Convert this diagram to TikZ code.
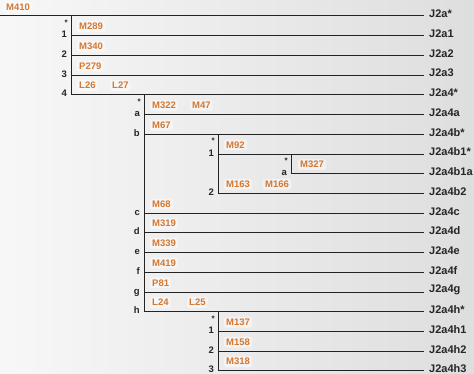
\documentclass[tikz,border=0pt]{standalone}
\usepackage{fontspec}
\setmainfont{Liberation Sans}
\definecolor{mk}{RGB}{212,120,50}
\definecolor{ln}{RGB}{35,35,35}
\tikzset{
  branch/.style={draw=ln, line width=1pt, line cap=rect},
  leaf/.style={anchor=west, inner xsep=6pt, inner ysep=0pt, text=black!85,
    font=\bfseries\fontsize{11}{12}\selectfont},
  mkr/.style={anchor=west, text=mk, fill=white, fill opacity=0.45, text opacity=1,
    rounded corners=1.5pt, inner xsep=2pt, inner ysep=2pt,
    font=\bfseries\fontsize{9.5}{10}\selectfont},
  idx/.style={anchor=base east, inner sep=0pt, text=black!85,
    font=\bfseries\fontsize{9.5}{10}\selectfont},
  starlbl/.style={anchor=north east, inner sep=0pt, text=black!85,
    font=\bfseries\fontsize{8}{8}\selectfont},
}
\begin{document}
\begin{tikzpicture}
\useasboundingbox (0pt,0pt) rectangle (474pt,-374pt);
\shade[left color=white!97!black, right color=white!87!black] (0pt,0pt) rectangle (474pt,-374pt);
\begin{scope}[yshift=-16pt, x=1pt, y=-19.72pt]
  % leaves and horizontal branches
  \foreach \i/\vx/\t in {0/0/J2a*,1/71/J2a1,2/71/J2a2,3/71/J2a3,4/71/J2a4*,
      5/144/J2a4a,6/144/J2a4b*,7/218/J2a4b1*,8/291/J2a4b1a,9/218/J2a4b2,
      10/144/J2a4c,11/144/J2a4d,12/144/J2a4e,13/144/J2a4f,14/144/J2a4g,
      15/144/J2a4h*,16/218/J2a4h1,17/218/J2a4h2,18/218/J2a4h3}{
    \coordinate (s\i) at (\vx,\i);
    \coordinate (e\i) at (423,\i);
    \node[leaf] (r\i) at (423,\i-0.1) {\t};
    \draw[branch] (s\i) -- (e\i);
  }
  % vertical branches
  \coordinate (v1t) at (71,0);
  \coordinate (v2t) at (144,4);
  \coordinate (v3t) at (218,6);
  \coordinate (v4t) at (291,7);
  \coordinate (v5t) at (218,15);
  \draw[branch] (v1t) -- (s4);
  \draw[branch] (v2t) -- (s15);
  \draw[branch] (v3t) -- (s9);
  \draw[branch] (v4t) -- (s8);
  \draw[branch] (v5t) -- (s18);
  % stars
  \node[starlbl] (st1) at (68,0.2) {*};
  \node[starlbl] (st2) at (141,4.2) {*};
  \node[starlbl] (st3) at (215,6.2) {*};
  \node[starlbl] (st4) at (288,7.2) {*};
  \node[starlbl] (st5) at (215,15.2) {*};
  % index labels
  \foreach \vx/\i/\t in {71/1/1,71/2/2,71/3/3,71/4/4,
      144/5/a,144/6/b,144/10/c,144/11/d,144/12/e,144/13/f,144/14/g,144/15/h,
      218/7/1,218/9/2,291/8/a,218/16/1,218/17/2,218/18/3}{
    \node[idx] (n\vx-\i) at (\vx-4,\i+0.1) {\t};
  }
  % markers
  \node[mkr] (m410) at (4,-0.45) {M410};
  \foreach \x/\y/\t in {77/0.5/M289,77/1.5/M340,77/2.5/P279,77/3.5/L26,110/3.5/L27,
      150/4.5/M322,190/4.5/M47,150/5.5/M67,224/6.5/M92,298/7.5/M327,
      224/8.5/M163,263/8.5/M166,150/9.5/M68,150/10.5/M319,150/11.5/M339,
      150/12.5/M419,150/13.5/P81,150/14.5/L24,187/14.5/L25,
      224/15.5/M137,224/16.5/M158,224/17.5/M318}{
    \node[mkr] (m\t) at (\x,\y+0.03) {\t};
  }
\end{scope}
\end{tikzpicture}
\end{document}
